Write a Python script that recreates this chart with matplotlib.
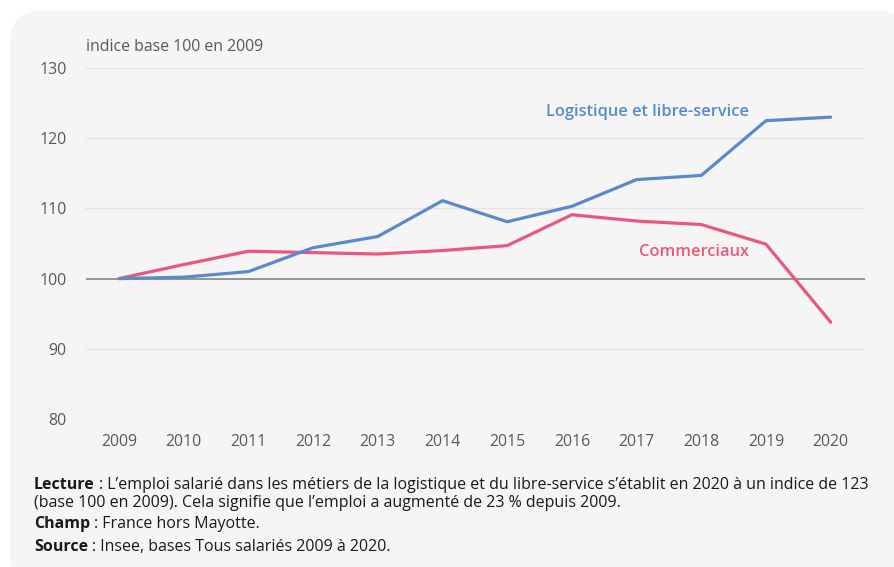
import matplotlib.pyplot as plt
from matplotlib.patches import FancyBboxPatch

plt.rcParams['font.family'] = ['Open Sans', 'DejaVu Sans']

# data (index, base 100 in 2009)
years = [2009, 2010, 2011, 2012, 2013, 2014, 2015, 2016, 2017, 2018, 2019, 2020]
logistique = [100, 100.2, 101.0, 104.4, 106.0, 111.1, 108.1, 110.3, 114.1, 114.7, 122.5, 123.0]
commerciaux = [100, 102.0, 103.9, 103.7, 103.5, 104.0, 104.7, 109.1, 108.2, 107.7, 104.9, 93.8]
y_ticks = [80, 90, 100, 110, 120, 130]

blue = '#5a8acb'
pink = '#e8587c'
grey_txt = '#595959'

W, H = 895, 567
fig = plt.figure(figsize=(W / 100, H / 100), dpi=100)
fig.patch.set_facecolor('white')

# rounded light grey panel behind everything
panel = FancyBboxPatch((10 / W, -20 / H), 900 / W, (H - 11 + 20) / H,
                       boxstyle='round,pad=0,rounding_size=0.035',
                       transform=fig.transFigure, facecolor='#f5f5f5',
                       edgecolor='none', zorder=-5, mutation_aspect=W / H)
fig.patches.append(panel)

ax = fig.add_axes([86 / W, 1 - 419 / H, (865 - 86) / W, (419 - 68) / H])
ax.set_zorder(2)
ax.set_facecolor('none')

for v in y_ticks:
    if v == 100:
        ax.axhline(v, color='#8c8c8c', lw=1.3, zorder=1)
    else:
        ax.axhline(v, color='#e4e4e4', lw=1.0, zorder=1)

ax.plot(years, commerciaux, color=pink, lw=2.3, zorder=3, solid_capstyle='round')
ax.plot(years, logistique, color=blue, lw=2.3, zorder=4, solid_capstyle='round')

ax.set_xlim(2008.49, 2020.53)
ax.set_ylim(80, 130)
ax.set_xticks(years)
ax.set_yticks(y_ticks)
ax.tick_params(length=0, labelsize=11.4, labelcolor=grey_txt)
ax.tick_params(axis='x', pad=11)
ax.tick_params(axis='y', pad=14)
for s in ax.spines.values():
    s.set_visible(False)

ax.text(2018.73, 123.7, 'Logistique et libre-service', color=blue, fontsize=11.8,
        fontweight='semibold', ha='right', va='center')
ax.text(2018.73, 103.8, 'Commerciaux', color=pink, fontsize=11.8,
        fontweight='semibold', ha='right', va='center')

fig.text(86 / W, 1 - 47 / H, 'indice base 100 en 2009', color=grey_txt,
         fontsize=11.4, ha='left', va='center')

# notes under the chart (y = baseline in pixels)
notes = [
    (489, 'Lecture', ': L\u2019emploi salari\u00e9 dans les m\u00e9tiers de la logistique et du libre-service s\u2019\u00e9tablit en 2020 \u00e0 un indice de 123'),
    (507, None, '(base 100 en 2009). Cela signifie que l\u2019emploi a augment\u00e9 de 23 % depuis 2009.'),
    (528, 'Champ', ': France hors Mayotte.'),
    (551, 'Source', ': Insee, bases Tous salari\u00e9s 2009 \u00e0 2020.'),
]
fs_note = 11.5
fig.canvas.draw()
renderer = fig.canvas.get_renderer()
for y, bold, rest in notes:
    x = 34 / W
    if bold:
        t = fig.text(x, 1 - y / H, bold, fontsize=fs_note, fontweight='bold',
                     color='#1a1a1a', ha='left', va='baseline')
        bb = t.get_window_extent(renderer)
        x = (bb.x1 + 4) / W
    fig.text(x, 1 - y / H, rest, fontsize=fs_note, color='#1a1a1a',
             ha='left', va='baseline')

fig.savefig('out.png', dpi=100, facecolor=fig.get_facecolor())
